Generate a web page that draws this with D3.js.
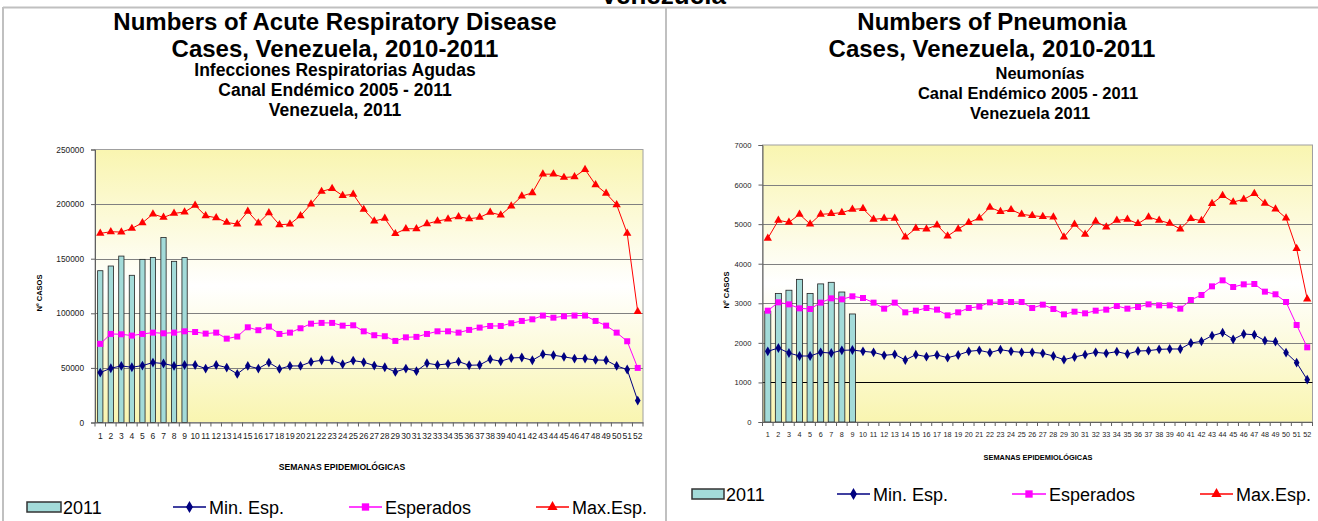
<!DOCTYPE html>
<html>
<head>
<meta charset="utf-8">
<script src="https://cdn.jsdelivr.net/npm/d3@7/dist/d3.min.js"></script>
<style>
body{margin:0;background:#fff;}
text{font-family:Arial,"Liberation Sans",sans-serif;}
</style>
</head>
<body>
<svg id="chart" width="1318" height="521"></svg>
<script>
// semanas epidemiologicas
var weeks = [1,2,3,4,5,6,7,8,9,10,11,12,13,14,15,16,17,18,19,20,21,22,23,24,25,26,
             27,28,29,30,31,32,33,34,35,36,37,38,39,40,41,42,43,44,45,46,47,48,49,50,51,52];

// Infecciones Respiratorias Agudas
var iraCases2011 = [139000,143300,152400,134800,149400,151200,169500,147600,151000];
var iraMin = [45700,49700,51800,50600,52100,54900,54000,51800,52700,52700,
              49400,52700,50300,44500,51800,49400,54900,49100,51800,51800,
              55500,57000,57000,53400,56700,55200,52100,50600,46300,49400,
              47000,54300,52700,53700,55800,52400,52700,57900,56100,59100,
              59500,57000,62500,61600,60100,58500,58500,57300,57000,51800,
              48500,20100];
var iraEsp = [72000,81100,80800,79600,81100,82300,81700,82300,83500,82900,
              81400,82300,76800,78700,87200,84500,87800,81100,82300,86300,
              90500,91200,91200,88700,89000,83500,79900,79000,74700,78000,
              78400,81100,83500,83500,82300,84800,86900,88400,88400,90900,
              93000,94500,97900,96000,97300,97900,97900,93000,88700,82300,
              74400,50000];
var iraMax = [173200,174700,174400,177700,182900,190900,187800,191500,192700,198800,
              189300,187500,183200,181700,193300,182600,192100,181100,181700,189300,
              200000,211600,214300,207800,209000,195100,184500,186900,172900,177400,
              177400,182000,184500,186300,188400,186600,187800,192400,190000,198200,
              207300,210400,227400,227400,224400,225000,231700,217700,209800,199400,
              173200,101500];
var iraTicks = [0,50000,100000,150000,200000,250000];

// Neumonias
var neuCases2011 = [2800,3250,3330,3605,3250,3490,3530,3285,2730];
var neuMin = [1786,1870,1743,1668,1668,1760,1743,1811,1819,1786,
              1760,1685,1710,1567,1702,1651,1693,1626,1693,1786,
              1811,1752,1828,1785,1760,1760,1735,1668,1575,1643,
              1702,1760,1735,1777,1718,1794,1803,1836,1845,1845,
              1996,2038,2181,2257,2089,2223,2206,2055,2030,1752,
              1499,1070];
var neuEsp = [2813,3024,2973,2872,2856,3016,3125,3100,3176,3134,
              3016,2864,3016,2771,2813,2881,2839,2695,2771,2881,
              2915,3024,3032,3032,3032,2881,2965,2856,2721,2788,
              2746,2813,2839,2931,2864,2906,2973,2948,2948,2864,
              3083,3209,3428,3580,3412,3479,3488,3294,3227,3032,
              2451,1887];
var neuMax = [4640,5096,5046,5248,5004,5248,5265,5290,5374,5391,
              5122,5147,5147,4675,4894,4877,4978,4700,4877,5037,
              5155,5425,5315,5365,5248,5214,5189,5180,4675,4995,
              4742,5071,4928,5096,5122,5012,5180,5096,5020,4877,
              5138,5088,5518,5720,5560,5627,5770,5526,5383,5155,
              4380,3108];
var neuTicks = [0,1000,2000,3000,4000,5000,6000,7000];

var legendNames = ["2011","Min. Esp.","Esperados","Max.Esp."];

var svg = d3.select("#chart");

// fondo amarillo / blanco / amarillo
var grad = svg.append("defs").append("linearGradient")
    .attr("id","plotbg").attr("x1",0).attr("y1",0).attr("x2",0).attr("y2",1);
grad.append("stop").attr("offset","0%").attr("stop-color","#f9f5b0");
grad.append("stop").attr("offset","50%").attr("stop-color","#ffffff");
grad.append("stop").attr("offset","100%").attr("stop-color","#f9f5b0");

// marcos
svg.append("line").attr("x1",3).attr("x2",1318).attr("y1",7.5).attr("y2",7.5).attr("stroke","#c0c0c0").attr("stroke-width",2);
svg.append("line").attr("x1",3).attr("x2",3).attr("y1",7).attr("y2",521).attr("stroke","#c0c0c0").attr("stroke-width",2);
svg.append("line").attr("x1",666).attr("x2",666).attr("y1",7).attr("y2",521).attr("stroke","#c0c0c0").attr("stroke-width",2);

// titulo general, cortado arriba como en el original
svg.append("text").attr("x",663).attr("y",4).attr("text-anchor","middle")
    .attr("font-size",26).attr("font-weight","bold").text("Venezuela");

function drawPanel(cfg, bars, minS, espS, maxS, ticks){
  var g = svg.append("g");

  var x = d3.scaleBand().domain(weeks).range([cfg.left, cfg.right]).paddingInner(0).paddingOuter(0);
  var y = d3.scaleLinear().domain([0, ticks[ticks.length-1]]).range([cfg.bottom, cfg.top]);

  // titulos
  cfg.titles.forEach(function(t){
    g.append("text").attr("x",t.x).attr("y",t.y).attr("text-anchor","middle")
      .attr("font-size",t.size).attr("font-weight","bold").text(t.text);
  });

  g.append("rect").attr("x",cfg.left).attr("y",cfg.top)
    .attr("width",cfg.right-cfg.left).attr("height",cfg.bottom-cfg.top)
    .attr("fill","url(#plotbg)").attr("stroke","#a0a0a0");

  // lineas de division
  g.append("g").selectAll("line").data(ticks.slice(1, ticks.length-1)).enter().append("line")
    .attr("x1",cfg.left).attr("x2",cfg.right)
    .attr("y1",function(d){return Math.round(y(d))+0.5;}).attr("y2",function(d){return Math.round(y(d))+0.5;})
    .attr("stroke",function(d){return d==cfg.darkGrid ? "#000" : "#808080";}).attr("stroke-width",1);

  // barras 2011
  var bw = x.bandwidth()*cfg.barFrac;
  g.append("g").selectAll("rect").data(bars).enter().append("rect")
    .attr("x",function(d,i){return x(weeks[i]) + (x.bandwidth()-bw)/2;})
    .attr("y",function(d){return y(d);})
    .attr("width",bw)
    .attr("height",function(d){return y(0)-y(d);})
    .attr("fill","#a3dbd9").attr("stroke","#222").attr("stroke-width",0.8);

  var line = d3.line().x(function(d,i){return x(weeks[i])+x.bandwidth()/2;}).y(function(d){return y(d);});
  var series = [
    {data:minS, color:"#000080", sym:d3.symbolDiamond, size:28},
    {data:espS, color:"#ff00ff", sym:d3.symbolSquare, size:36},
    {data:maxS, color:"#ff0000", sym:d3.symbolTriangle, size:30}
  ];
  series.forEach(function(s){
    g.append("path").attr("d",line(s.data)).attr("fill","none").attr("stroke",s.color).attr("stroke-width",1);
    g.append("g").selectAll("path").data(s.data).enter().append("path")
      .attr("transform",function(d,i){return "translate("+(x(weeks[i])+x.bandwidth()/2)+","+y(d)+")";})
      .attr("d",d3.symbol().type(s.sym).size(s.size))
      .attr("fill",s.color);
  });

  // eje y
  var ya = g.append("g").attr("transform","translate("+cfg.left+",0)")
    .call(d3.axisLeft(y).tickValues(ticks).tickSize(4).tickPadding(cfg.yPad).tickFormat(d3.format("d")));
  ya.select(".domain").attr("stroke","#606060");
  ya.selectAll(".tick line").attr("stroke","#606060");
  ya.selectAll("text").attr("font-size",cfg.yFont).attr("fill","#222").style("font-family","Arial, 'Liberation Sans', sans-serif");

  // eje x
  var xa = g.append("g").attr("transform","translate(0,"+cfg.bottom+")")
    .call(d3.axisBottom(x).tickSize(0).tickPadding(cfg.xPad));
  xa.select(".domain").attr("stroke","#606060");
  xa.selectAll("text").attr("font-size",cfg.xFont).attr("fill","#222").style("font-family","Arial, 'Liberation Sans', sans-serif");
  g.append("g").selectAll("line").data(weeks.concat([0])).enter().append("line")
    .attr("x1",function(d,i){return cfg.left + i*x.step();})
    .attr("x2",function(d,i){return cfg.left + i*x.step();})
    .attr("y1",cfg.bottom).attr("y2",cfg.bottom+4)
    .attr("stroke","#606060");

  g.append("text").attr("transform","translate("+cfg.yTitle[0]+","+cfg.yTitle[1]+") rotate(-90)")
    .attr("text-anchor","middle").attr("font-size",7.5).attr("font-weight","bold").text("Nº CASOS");
  g.append("text").attr("x",cfg.xTitle[0]).attr("y",cfg.xTitle[1])
    .attr("text-anchor","middle").attr("font-size",cfg.xTitle[2]).attr("font-weight","bold").text("SEMANAS EPIDEMIOLÓGICAS");

  // leyenda
  var L = cfg.legend, ly = L.y;
  g.append("rect").attr("x",L.sw[0]).attr("y",ly-5).attr("width",L.sw[1]-L.sw[0]).attr("height",10)
    .attr("fill","#a3dbd9").attr("stroke","#333").attr("stroke-width",1.5);
  g.append("text").attr("x",L.sw[1]+2).attr("y",ly+6.5).attr("font-size",18).text(legendNames[0]);
  series.forEach(function(s,i){
    var a = L.lines[i];
    g.append("line").attr("x1",a[0]).attr("x2",a[1]).attr("y1",ly).attr("y2",ly).attr("stroke",s.color).attr("stroke-width",1.5);
    g.append("path").attr("transform","translate("+((a[0]+a[1])/2)+","+ly+")")
      .attr("d",d3.symbol().type(s.sym).size(s.size*1.5)).attr("fill",s.color);
    g.append("text").attr("x",a[1]+3).attr("y",ly+6.5).attr("font-size",18).text(legendNames[i+1]);
  });
}

drawPanel({
  left:95, right:643, top:149.5, bottom:422.5, barFrac:0.5, darkGrid:-1,
  yFont:8.3, yPad:7, xFont:8.5, xPad:10,
  yTitle:[42,293], xTitle:[342,470,8.6],
  titles:[
    {x:335, y:30, size:24, text:"Numbers of Acute Respiratory Disease"},
    {x:335, y:57, size:24, text:"Cases, Venezuela, 2010-2011"},
    {x:335, y:76, size:17.5, text:"Infecciones Respiratorias Agudas"},
    {x:335, y:96, size:17.5, text:"Canal Endémico 2005 - 2011"},
    {x:335, y:116, size:17.5, text:"Venezuela, 2011"}
  ],
  legend:{y:507, sw:[27,61], lines:[[173,206],[349,382],[536,569]]}
}, iraCases2011, iraMin, iraEsp, iraMax, iraTicks);

drawPanel({
  left:762.5, right:1312.5, top:145, bottom:422, barFrac:0.57, darkGrid:1000,
  yFont:7.6, yPad:7, xFont:7.2, xPad:10,
  yTitle:[729,290], xTitle:[1038,460,7.4],
  titles:[
    {x:992, y:30, size:24, text:"Numbers of Pneumonia"},
    {x:992, y:57, size:24, text:"Cases, Venezuela, 2010-2011"},
    {x:1040, y:79, size:16.5, text:"Neumonías"},
    {x:1028, y:99, size:16.5, text:"Canal Endémico 2005 - 2011"},
    {x:1030, y:119, size:16.5, text:"Venezuela 2011"}
  ],
  legend:{y:494, sw:[692,724], lines:[[837,870],[1012,1046],[1200,1233]]}
}, neuCases2011, neuMin, neuEsp, neuMax, neuTicks);
</script>
</body>
</html>
